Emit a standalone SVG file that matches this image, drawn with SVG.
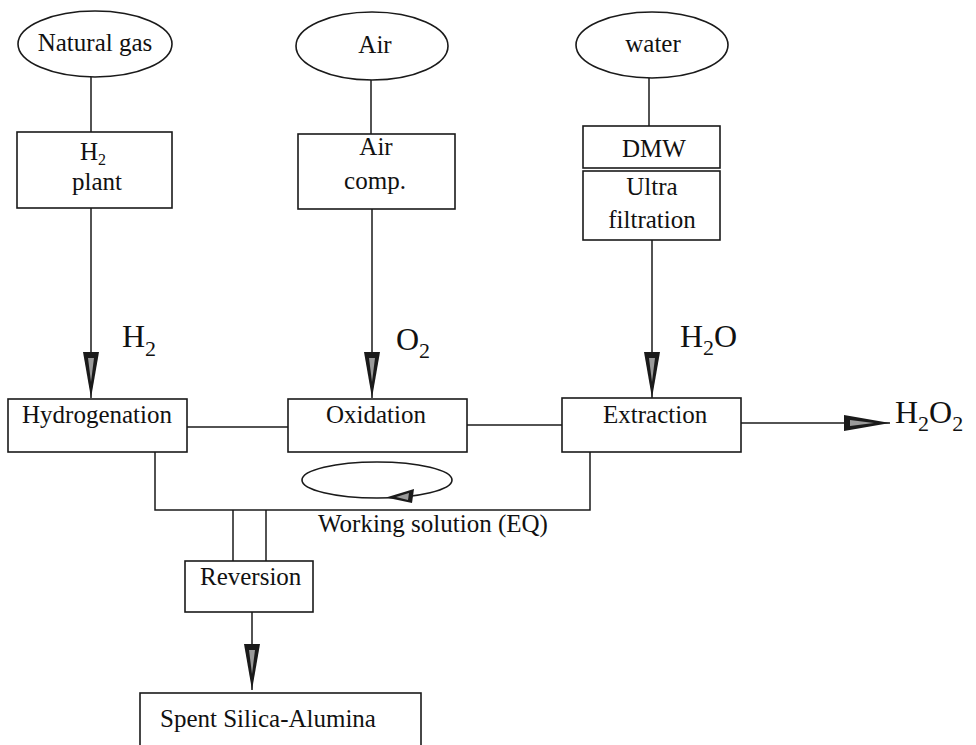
<svg xmlns="http://www.w3.org/2000/svg" width="976" height="745" viewBox="0 0 976 745">
<defs>
<style>
.box{fill:#fff;stroke:#1a1a1a;stroke-width:1.6}
.ell{fill:none;stroke:#1a1a1a;stroke-width:1.6}
.ln{fill:none;stroke:#1a1a1a;stroke-width:1.5}
.t{font-family:"Liberation Serif","Times New Roman",serif;font-size:25px;fill:#111}
.big{font-family:"Liberation Serif","Times New Roman",serif;font-size:32px;fill:#111}
</style>
<marker id="arr" markerUnits="userSpaceOnUse" markerWidth="48" markerHeight="18" refX="46" refY="8" orient="auto" viewBox="0 0 48 18">
<path d="M0,0 L46,8 L0,16 Z" fill="#1a1a1a"/>
<path d="M6,5 L30,8 L6,11 Z" fill="#9a9a9a"/>
</marker>
</defs>
<rect width="976" height="745" fill="#fff"/>

<g id="connectors">
<line class="ln" x1="91" y1="77" x2="91" y2="132"/>
<line class="ln" x1="91" y1="208" x2="91" y2="398" marker-end="url(#arr)"/>
<line class="ln" x1="371" y1="80" x2="371" y2="134"/>
<line class="ln" x1="372" y1="209" x2="372" y2="398" marker-end="url(#arr)"/>
<line class="ln" x1="649" y1="78" x2="649" y2="126"/>
<line class="ln" x1="652" y1="240" x2="652" y2="398" marker-end="url(#arr)"/>
<line class="ln" x1="187" y1="427" x2="288" y2="427"/>
<line class="ln" x1="467" y1="425" x2="562" y2="425"/>
<line class="ln" x1="741" y1="423" x2="890" y2="423" marker-end="url(#arr)"/>
<polyline class="ln" points="155,452 155,510 590,510 590,452"/>
<line class="ln" x1="233" y1="510" x2="233" y2="561"/>
<line class="ln" x1="266" y1="510" x2="266" y2="561"/>
<line class="ln" x1="252" y1="612" x2="252" y2="690" marker-end="url(#arr)"/>
</g>

<g id="natural-gas">
<ellipse class="ell" cx="95" cy="44" rx="77" ry="33"/>
<text class="t" x="95" y="51" text-anchor="middle">Natural gas</text>
</g>
<g id="air">
<ellipse class="ell" cx="372" cy="46" rx="76" ry="34"/>
<text class="t" x="375" y="53" text-anchor="middle">Air</text>
</g>
<g id="water">
<ellipse class="ell" cx="652" cy="45" rx="76" ry="33"/>
<text class="t" x="653" y="52" text-anchor="middle">water</text>
</g>

<g id="h2-plant">
<rect class="box" x="17" y="132" width="155" height="76"/>
<text class="t" x="93" y="160" text-anchor="middle">H<tspan font-size="16" dy="5">2</tspan></text>
<text class="t" x="97" y="190" text-anchor="middle">plant</text>
</g>
<g id="air-comp">
<rect class="box" x="298" y="134" width="157" height="75"/>
<text class="t" x="376" y="155" text-anchor="middle">Air</text>
<text class="t" x="375" y="189" text-anchor="middle">comp.</text>
</g>
<g id="dmw">
<rect class="box" x="583" y="126" width="137" height="42"/>
<text class="t" x="654" y="157" text-anchor="middle">DMW</text>
</g>
<g id="ultra-filtration">
<rect class="box" x="583" y="171" width="137" height="69"/>
<text class="t" x="652" y="195" text-anchor="middle">Ultra</text>
<text class="t" x="652" y="228" text-anchor="middle">filtration</text>
</g>

<g id="hydrogenation">
<rect class="box" x="8" y="399" width="179" height="53"/>
<text class="t" x="22" y="423">Hydrogenation</text>
</g>
<g id="oxidation">
<rect class="box" x="288" y="399" width="179" height="53"/>
<text class="t" x="326" y="423">Oxidation</text>
</g>
<g id="extraction">
<rect class="box" x="562" y="398" width="179" height="54"/>
<text class="t" x="603" y="423">Extraction</text>
</g>

<g id="working-solution">
<ellipse class="ell" cx="377" cy="480" rx="75" ry="18"/>
<polygon points="386,497.5 414,489 412,503" fill="#1a1a1a"/>
<polygon points="396,497 409,493 408,500" fill="#9a9a9a"/>
<text class="t" x="318" y="532">Working solution (EQ)</text>
</g>

<g id="reversion">
<rect class="box" x="185" y="561" width="128" height="51"/>
<text class="t" x="200" y="585">Reversion</text>
</g>
<g id="spent-silica-alumina">
<rect class="box" x="140" y="693" width="281" height="70"/>
<text class="t" x="160" y="727">Spent Silica-Alumina</text>
</g>

<g id="labels">
<text class="big" x="122" y="347">H<tspan font-size="22" dy="9">2</tspan></text>
<text class="big" x="396" y="350">O<tspan font-size="22" dy="8">2</tspan></text>
<text class="big" x="680" y="347">H<tspan font-size="22" dy="8">2</tspan><tspan dy="-8">O</tspan></text>
<text class="big" x="895" y="423">H<tspan font-size="22" dy="8">2</tspan><tspan dy="-8">O</tspan><tspan font-size="22" dy="8">2</tspan></text>
</g>
</svg>
